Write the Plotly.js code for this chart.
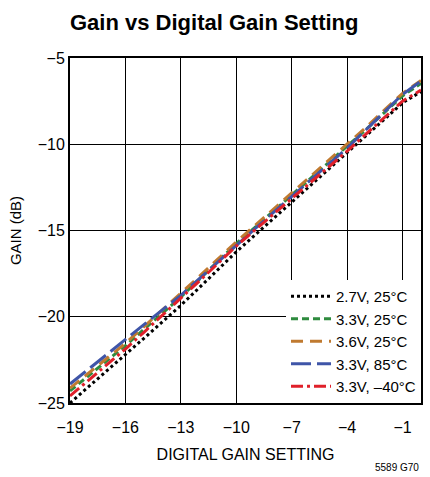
<!DOCTYPE html>
<html><head><meta charset="utf-8">
<script src="https://cdn.plot.ly/plotly-3.0.1.min.js"></script>
<style>body{margin:0;background:#fff}#chart{width:430px;height:477px}</style>
</head><body><div id="chart"></div>
<script>
const settings = [-19,-18,-17,-16,-15,-14,-13,-12,-11,-10,-9,-8,-7,-6,-5,-4,-3,-2,-1,0];
const gain27_25 = [-25.0,-24.07,-23.13,-22.2,-21.25,-20.29,-19.34,-18.31,-17.27,-16.24,-15.28,-14.33,-13.37,-12.41,-11.46,-10.5,-9.53,-8.57,-7.6,-6.95];
const gain33_25 = [-24.3,-23.42,-22.55,-21.67,-20.73,-19.8,-18.86,-17.83,-16.79,-15.76,-14.83,-13.89,-12.96,-12.02,-11.09,-10.15,-9.17,-8.18,-7.2,-6.47];
const gain36_25 = [-24.14,-23.27,-22.41,-21.54,-20.58,-19.62,-18.66,-17.66,-16.66,-15.66,-14.72,-13.78,-12.85,-11.91,-10.97,-10.03,-9.04,-8.04,-7.05,-6.3];
const gain33_85 = [-23.9,-23.03,-22.17,-21.3,-20.45,-19.6,-18.76,-17.79,-16.82,-15.85,-14.91,-13.97,-13.04,-12.1,-11.16,-10.22,-9.18,-8.15,-7.11,-6.34];
const gain33_m40 = [-24.59,-23.68,-22.78,-21.87,-20.9,-19.92,-18.95,-17.93,-16.92,-15.9,-14.98,-14.07,-13.15,-12.23,-11.32,-10.4,-9.43,-8.47,-7.5,-6.86];
const seriesNames = ['2.7V, 25°C','3.3V, 25°C','3.6V, 25°C','3.3V, 85°C','3.3V, –40°C'];
const xTicks = [-19,-16,-13,-10,-7,-4,-1];
const yTicks = [-25,-20,-15,-10,-5];

const FONT = '"Liberation Sans Narrow", "Arial Narrow", "Liberation Sans", Arial, sans-serif';
const styles = [
  {color:'#000000', dash:'dot', width:3},
  {color:'#2e8b3e', dash:'7px,4px', width:3},
  {color:'#c07a30', dash:'12px,7px', width:3},
  {color:'#3f55a8', dash:'20px,6px', width:3},
  {color:'#e0202a', dash:'12px,4px,3px,4px', width:3}
];
const ys = [gain27_25, gain33_25, gain36_25, gain33_85, gain33_m40];
const traces = ys.map((y,i)=>({
  x: settings, y: y, type:'scatter', mode:'lines', name: seriesNames[i],
  line: styles[i]
}));
const tickText = v => v.map(t => t<0 ? '\u2212'+Math.abs(t) : String(t));
const layout = {
  width:430, height:477,
  margin:{l:70, r:9, t:58, b:74},
  paper_bgcolor:'#fff', plot_bgcolor:'#fff',
  font:{family:FONT, color:'#000', size:15},
  title:{text:'<b>Gain vs Digital Gain Setting</b>', x:70/430, xanchor:'left', y:1-22/477, yanchor:'middle',
         font:{family:FONT, size:22, color:'#000'}},
  xaxis:{range:[-19,0], tickvals:xTicks, ticktext:tickText(xTicks), showgrid:true, gridcolor:'#000', gridwidth:1,
         zeroline:false, showline:true, linecolor:'#000', linewidth:2, mirror:true, ticks:'', ticklabelstandoff:9,
         tickfont:{family:FONT, size:16}, title:{text:'DIGITAL GAIN SETTING', font:{family:FONT, size:16}, standoff:14}},
  yaxis:{range:[-25,-5], tickvals:yTicks, ticktext:tickText(yTicks), showgrid:true, gridcolor:'#000', gridwidth:1,
         zeroline:false, showline:true, linecolor:'#000', linewidth:2, mirror:true, ticks:'',
         tickfont:{family:FONT, size:16}, title:{text:'GAIN (dB)', font:{family:FONT, size:15}, standoff:12}},
  legend:{x:1, xanchor:'right', y:0, yanchor:'bottom', bgcolor:'#fff', borderwidth:0,
          font:{family:FONT, size:15}, itemwidth:40, tracegroupgap:0},
  annotations:[{text:'5589 G70', xref:'paper', yref:'paper', x:1, xanchor:'right', y:-(467-403)/345, yanchor:'middle',
                showarrow:false, font:{family:FONT, size:10}}],
  showlegend:true
};
Plotly.newPlot('chart', traces, layout, {displayModeBar:false, staticPlot:true});
</script></body></html>
